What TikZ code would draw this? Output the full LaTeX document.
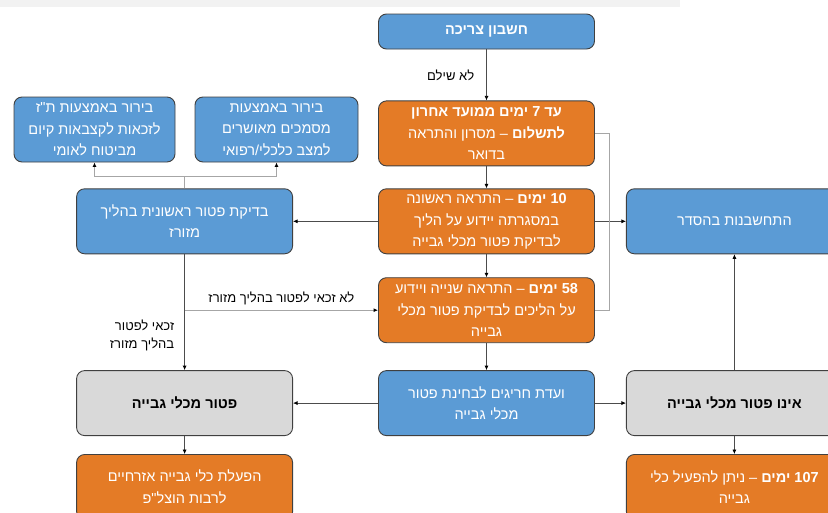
\documentclass[tikz,border=0pt]{standalone}
\usepackage{fontspec}
\setmainfont{Liberation Sans}
\newfontfamily\hebfont[Script=Hebrew]{Liberation Sans}
\TeXXeTstate=1
\usetikzlibrary{positioning,arrows.meta}
\definecolor{boxblue}{HTML}{5B9BD5}
\definecolor{boxorange}{HTML}{E47B26}
\definecolor{boxgray}{HTML}{D9D9D9}
\definecolor{boxline}{HTML}{404040}
\newcommand{\heb}[1]{\beginR#1\endR}
\newcommand{\lat}[1]{\beginL#1\endL{}}
\tikzset{base node/.style={rectangle,rounded corners=8pt,draw=boxline,line width=0.9pt,minimum width=216pt,minimum height=65pt,inner sep=2pt,align=center,font=\hebfont\fontsize{14.5}{21.5}\selectfont},
  blue node/.style={base node,fill=boxblue,text=white},
  orange node/.style={base node,fill=boxorange,text=white},
  gray node/.style={base node,fill=boxgray,text=black,font=\hebfont\bfseries\fontsize{14.5}{21.5}\selectfont},
  with tip/.style={-{Latex[length=4.5pt,width=4pt,color=black]}},
  conn/.style={draw=black!70,line width=0.7pt,with tip},
  soft conn/.style={draw=black!35,line width=0.9pt},
  edge label/.style={font=\hebfont\fontsize{13}{18}\selectfont,text=black,inner sep=0pt}}

\begin{document}
\begin{tikzpicture}[x=1pt,y=-1pt]
            \useasboundingbox (0,0) rectangle (828,512);
            \clip (0,0) rectangle (828,512);
            \fill[black!5] (0,0) rectangle (680,7);

            % middle column
            \node[blue node, minimum height=35pt, font=\hebfont\bfseries\fontsize{14.5}{21.5}\selectfont] (bill) at (486.5,31.5) {\heb{חשבון צריכה}};
            \node[orange node] (d7) [below = 51pt of bill] {\heb{\textbf{עד \lat{7} ימים ממועד אחרון}}\\ \heb{\textbf{לתשלום} – מסרון והתראה}\\ \heb{בדואר}};
            \node[orange node] (d10) [below = 22pt of d7] {\heb{\textbf{\lat{10} ימים} – התראה ראשונה}\\ \heb{במסגרתה יידוע על הליך}\\ \heb{לבדיקת פטור מכלי גבייה}};
            \node[orange node] (d58) [below = 23pt of d10] {\heb{\textbf{\lat{58} ימים} – התראה שנייה ויידוע}\\ \heb{על הליכים לבדיקת פטור מכלי}\\ \heb{גבייה}};
            \node[blue node] (comm) [below = 27pt of d58] {\heb{ועדת חריגים לבחינת פטור}\\ \heb{מכלי גבייה}};

            % side columns
            \node[blue node] (check) [left = 85pt of d10] {\heb{בדיקת פטור ראשונית בהליך}\\ \heb{מזורז}};
            \node[blue node] (settle) [right = 31pt of d10] {\heb{התחשבנות בהסדר}};
            \node[gray node] (exempt) [left = 85pt of comm] {\heb{פטור מכלי גבייה}};
            \node[gray node] (notex) [right = 31pt of comm] {\heb{אינו פטור מכלי גבייה}};
            \node[orange node] (civil) [below = 18pt of exempt] {\heb{הפעלת כלי גבייה אזרחיים}\\ \heb{לרבות הוצל"פ}};
            \node[orange node] (d107) [below = 18pt of notex] {\heb{\textbf{\lat{107} ימים} – ניתן להפעיל כלי}\\ \heb{גבייה}};
            \node[blue node, minimum width=161pt] (nii) at (94.5,129.5) {\heb{בירור באמצעות ת"ז}\\ \heb{לזכאות לקצבאות קיום}\\ \heb{מביטוח לאומי}};
            \node[blue node, minimum width=163pt] (docs) at (276.5,129.5) {\heb{בירור באמצעות}\\ \heb{מסמכים מאושרים}\\ \heb{למצב כלכלי/רפואי}};

            \coordinate (loop top) at ([xshift=14.5pt]d7.east);
            \coordinate (loop bot) at ([xshift=14.5pt]d58.east);
            \coordinate (fork) at ([yshift=12pt]check.north);
            \coordinate (split) at (check.south |- d58.west);

            \draw[conn] (bill) -- node[edge label, left = 12pt] {\heb{לא שילם}} (d7);
            \path[conn]
            (d7) edge (d10)
            (d10) edge (d58)
            (d58) edge (comm)
            (d10) edge (check)
            (d10) edge (settle)
            (comm) edge (exempt)
            (comm) edge (notex)
            (notex) edge (settle)
            (exempt) edge (civil)
            (notex) edge (d107);
            \draw[soft conn] (d7.east) -- (loop top) -- (loop bot) -- (d58.east);
            \draw[soft conn] (check) -- (fork);
            \draw[soft conn, with tip] (fork) -| (nii);
            \draw[soft conn, with tip] (fork) -| (docs);
            \draw[conn] (check) -- node[edge label, align=right, left = 10pt, pos=0.7] {\heb{זכאי לפטור}\\ \heb{בהליך מזורז}} (exempt);
            \draw[soft conn, with tip] (split) -- node[edge label, above = 5pt] {\heb{לא זכאי לפטור בהליך מזורז}} (d58);
        \end{tikzpicture}
\end{document}
